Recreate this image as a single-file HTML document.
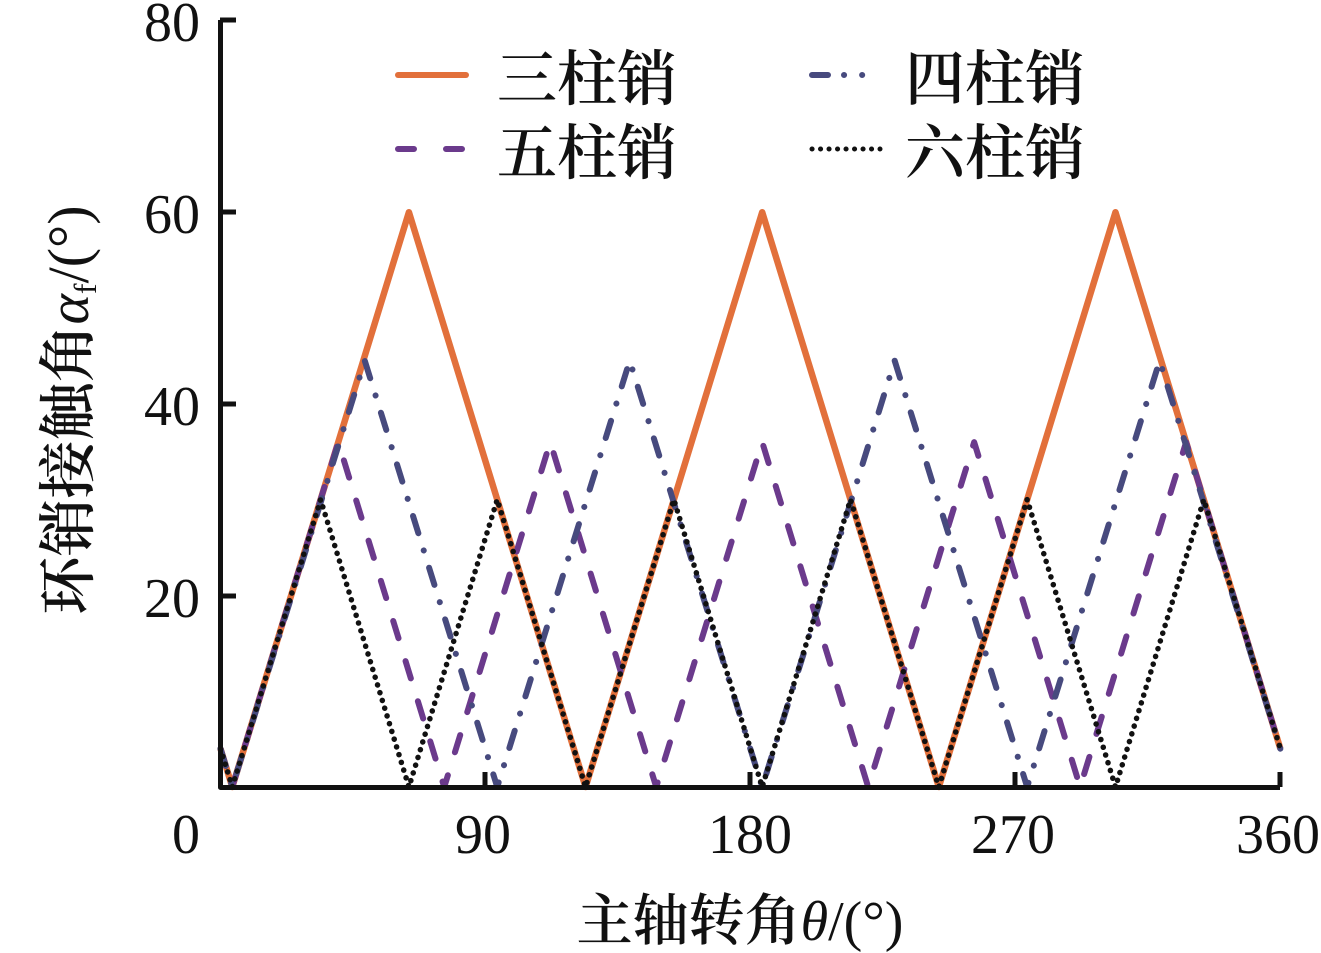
<!DOCTYPE html>
<html><head><meta charset="utf-8">
<style>
html,body{margin:0;padding:0;background:#fff;}
svg{display:block;}
text{font-family:"Liberation Serif","Noto Serif CJK SC",serif;fill:#111;}
.cj{font-weight:600;}
</style></head>
<body>
<svg width="1321" height="953" viewBox="0 0 1321 953" xmlns="http://www.w3.org/2000/svg">
<g fill="none" stroke-linejoin="round">
<g transform="translate(220.5,787) scale(2.944,-9.58)">
<polyline vector-effect="non-scaling-stroke" stroke="#e2703b" stroke-width="6.5" points="0,4 4,0 64,60 124,0 184,60 244,0 304,60 360,4"/>
<polyline vector-effect="non-scaling-stroke" stroke="#6b3a8c" stroke-width="6" stroke-linecap="round" stroke-dasharray="18,24" points="0,4 4,0 40,36 76,0 112,36 148,0 184,36 220,0 256,36 292,0 328,36 360,4"/>
<polyline vector-effect="non-scaling-stroke" stroke="#474a7e" stroke-width="6" stroke-linecap="round" stroke-dasharray="18,18,0.1,18" points="0,4 4,0 49,44.5 94,0 139,44.5 184,0 229,44.5 274,0 319,44.5 360,4"/>
<polyline vector-effect="non-scaling-stroke" stroke="#111" stroke-width="5.5" stroke-linecap="round" stroke-dasharray="0.1,8" points="0,4 4,0 34,30 64,0 94,30 124,0 154,30 184,0 214,30 244,0 274,30 304,0 334,30 360,4"/>
</g>
<path d="M220.5,20 V787.5 H1280" stroke="#111" stroke-width="5"/>
<path d="M220,20 H236 M220,212 H236 M220,404 H236 M220,596 H236" stroke="#111" stroke-width="5"/>
<path d="M485,787 V772 M750,787 V772 M1015,787 V772 M1280,787 V772" stroke="#111" stroke-width="5"/>
<line x1="398" y1="75" x2="466" y2="75" stroke="#e2703b" stroke-width="6" stroke-linecap="round"/>
<line x1="398" y1="149" x2="466" y2="149" stroke="#6b3a8c" stroke-width="6" stroke-linecap="round" stroke-dasharray="16,32"/>
<line x1="812" y1="75" x2="878" y2="75" stroke="#474a7e" stroke-width="6" stroke-linecap="round" stroke-dasharray="16,16,0.1,18,0.1,40"/>
<line x1="812" y1="149" x2="880" y2="149" stroke="#111" stroke-width="5" stroke-linecap="round" stroke-dasharray="0.1,8.4"/>
</g>
<g class="cj" font-size="60">
<text x="497" y="100">三柱销</text>
<text x="497" y="174">五柱销</text>
<text x="905" y="100">四柱销</text>
<text x="905" y="174">六柱销</text>
</g>
<g font-size="56" text-anchor="end">
<text x="200" y="41">80</text>
<text x="200" y="233">60</text>
<text x="200" y="425">40</text>
<text x="200" y="617">20</text>
</g>
<g font-size="56" text-anchor="middle">
<text x="186" y="853">0</text>
<text x="483" y="853">90</text>
<text x="750" y="853">180</text>
<text x="1013" y="853">270</text>
<text x="1278" y="853">360</text>
</g>
<text class="cj" x="740" y="940" font-size="56" text-anchor="middle">主轴转角<tspan font-style="italic" font-weight="normal">θ</tspan><tspan font-weight="normal">/(°)</tspan></text>
<text class="cj" transform="translate(88,410) rotate(-90)" font-size="58" text-anchor="middle">环销接触角<tspan font-style="italic" font-weight="normal">α</tspan><tspan font-size="32" dy="8" font-weight="normal">f</tspan><tspan dy="-8" font-weight="normal">/(°)</tspan></text>
</svg>
</body></html>
